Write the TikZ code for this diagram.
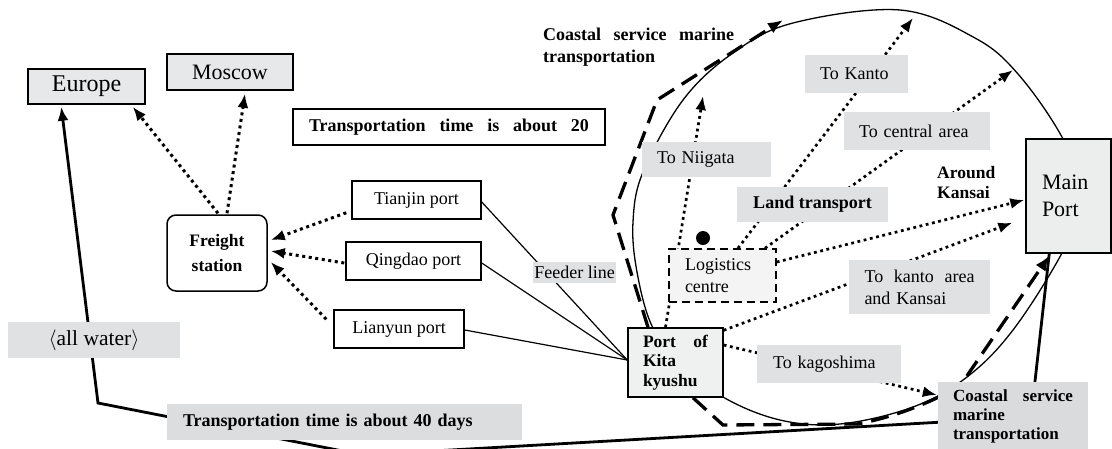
\documentclass[tikz,border=0pt]{standalone}
\usepackage{fontspec}
\setmainfont{Liberation Serif}
\usetikzlibrary{arrows.meta,backgrounds}
\definecolor{boxgray}{HTML}{E7E8E9}
\definecolor{lblgray}{HTML}{E0E1E2}
\definecolor{t40gray}{HTML}{DCDDDE}
\definecolor{portgray}{HTML}{EFF0F0}
\definecolor{loggray}{HTML}{F3F4F3}
\definecolor{mpgray}{HTML}{ECEDED}
\definecolor{coastgray}{HTML}{DADBDC}
\newcommand\regf{\fontsize{18}{21}\selectfont}
\newcommand\bigf{\fontsize{22}{27}\selectfont}
\newcommand\boldf{\bfseries\fontsize{18}{20}\selectfont}
\begin{document}
\begin{tikzpicture}[x=1pt,y=-1pt,
  box/.style={draw=black, line width=1.5pt, fill=white, inner sep=0pt, font=\regf},
  lbl/.style={draw=none, fill=lblgray, inner sep=0pt, font=\regf},
  dots/.style={line width=3pt, dash pattern=on 3pt off 3.6pt, -{Latex[length=14pt,width=11pt]}},
  fdots/.style={line width=2.7pt, dash pattern=on 2.8pt off 3.6pt, -{Latex[length=14pt,width=11pt]}},
  coastline/.style={line width=3.3pt, dash pattern=on 18pt off 9pt},
  route/.style={line width=2.8pt},
  feeder/.style={line width=1.2pt},
  orbit/.style={line width=1.3pt}]
\useasboundingbox (0,0) rectangle (1112,448);

% ---------- nodes ----------
\node[box, fill=boxgray, minimum width=117, minimum height=35, font=\fontsize{24}{28}\selectfont] (europe) at (86.5,86.5) {Europe};
\node[box, fill=boxgray, minimum width=126, minimum height=36, font=\bigf] (moscow) at (230,72) {Moscow};
\node[box, minimum width=312, minimum height=36, text width=280, inner xsep=16, align=left, font=\boldf] (t20) at (449,127) {Transportation\hfill time\hfill is\hfill about\hfill 20};
\node[box, minimum width=129, minimum height=38] (tianjin) at (416.5,200) {Tianjin port};
\node[box, minimum width=135, minimum height=38] (qingdao) at (413.5,261) {Qingdao port};
\node[box, minimum width=130, minimum height=38] (lianyun) at (399,329) {Lianyun port};
\node[box, rounded corners=9pt, minimum width=100, minimum height=76, align=center, font=\bfseries\fontsize{17.5}{25}\selectfont] (freight) at (217,253) {Freight\\station};
\node[lbl, minimum width=83, minimum height=21] (feeder) at (574.5,272.5) {Feeder line};
\node[box, fill=portgray, minimum width=95, minimum height=69, text width=65, inner xsep=15, align=left, font=\bfseries\fontsize{17.5}{19.5}\selectfont] (port) at (675.5,362.5) {Port\hfill of\\Kita\\kyushu};
\node[lbl, fill=coastgray, minimum width=150, minimum height=68, text width=120, inner xsep=15, align=left, font=\bfseries\fontsize{17}{19}\selectfont] (coastal) at (1013,416) {Coastal\hfill service\\marine\\transportation};
\node[lbl, fill=t40gray, minimum width=355, minimum height=36, text width=323, inner xsep=16, align=left, font=\boldf] (t40) at (344.5,422) {Transportation time is about 40 days};
\node[lbl, minimum width=172, minimum height=36, font=\fontsize{21.5}{24}\selectfont] (allwater) at (94,340) {$\langle$all water$\rangle$};
\node[box, fill=mpgray, minimum width=85, minimum height=114, text width=53, inner xsep=16, align=left, font=\bigf] (mainport) at (1068.5,196) {Main\\Port};
\node[lbl, minimum width=129, minimum height=35, text width=99, inner xsep=15, align=left] (niigata) at (706.5,159.5) {To Niigata};
\node[lbl, minimum width=103, minimum height=38, text width=73, inner xsep=15, align=left] (kanto) at (856.5,74) {To Kanto};
\node[lbl, minimum width=146, minimum height=38, text width=116, inner xsep=15, align=left] (central) at (917,131) {To central area};
\node[lbl, minimum width=151, minimum height=35, font=\boldf] (land) at (812.5,204.5) {Land transport};
\node[lbl, minimum width=141, minimum height=54, text width=110, inner xsep=15.5, align=left, font=\fontsize{18}{22}\selectfont] (kantoarea) at (919.5,287) {To\hfill kanto\hfill area\\and Kansai};
\node[lbl, minimum width=144, minimum height=38, text width=112, inner xsep=16, align=left] (kagoshima) at (829,364) {To kagoshima};
\node[box, fill=loggray, dash pattern=on 8pt off 5pt, minimum width=107, minimum height=53, text width=75, inner xsep=16, align=left, font=\fontsize{18}{22}\selectfont] (logistics) at (722.5,275.5) {Logistics\\centre};
\node[circle, fill=black, minimum size=14, inner sep=0pt] (dot) at (703,238) {};
\node[anchor=north west, inner sep=0pt, align=left, font=\bfseries\fontsize{17.5}{20}\selectfont] (around) at (937,166) {Around\\Kansai};
\node[anchor=north west, inner sep=0pt, text width=191, align=left, font=\bfseries\fontsize{18}{22}\selectfont] (topcoastal) at (543,28) {Coastal\hfill service\hfill marine\\transportation};

\coordinate (niigatatip) at (703,96);
\coordinate (kantotip) at (913,18);
\coordinate (centraltip) at (1013,70);
\coordinate (coasttip) at (783,20);
\coordinate (bend1) at (613,215);
\coordinate (bend2) at (657,100);
\coordinate (bend3) at (723,425);
\coordinate (bend4) at (857,424);
\coordinate (bend5) at (960,386);
\coordinate (rc1) at (1031,417);
\coordinate (rc2) at (363,455);
\coordinate (rc3) at (98,403);

% ---------- connectors (behind the boxes) ----------
\begin{pgfonlayer}{background}
\fill[white] (0,0) rectangle (1112,448);
\draw[orbit] plot[smooth cycle, tension=0.6] coordinates {
  (900,10) (975,38) (1018,74) (1062,137) (1085,196) (1062,253) (1013,330) (967,377)
  (913,407) (840,424) (780,420) (723,397) (680,362) (652,326) (637,272) (633,222)
  (643,172) (683,100) (733,53) (793,23)};
% feeder lines
\draw[feeder] ([yshift=-2pt]tianjin.east) -- ([yshift=2.5pt]port.west);
\draw[feeder] ([yshift=-2pt]qingdao.east) -- ([yshift=2.5pt]port.west);
\draw[feeder] ([yshift=-1pt]lianyun.east) -- ([yshift=2.5pt]port.west);
% freight station links
\draw[dots] ([xshift=1pt,yshift=1pt]freight.north) -- ([xshift=-13pt,yshift=-2pt]europe.south east);
\draw[dots] ([xshift=10pt,yshift=1pt]freight.north) -- ([xshift=15pt,yshift=-3pt]moscow.south);
\draw[dots] ([xshift=-5pt,yshift=7pt]tianjin.south west) -- ([xshift=3pt,yshift=13pt]freight.east);
\draw[dots] ([xshift=-1pt,yshift=-2pt]qingdao.west) -- ([xshift=3pt,yshift=2pt]freight.east);
\draw[dots] ([xshift=-7pt,yshift=-10pt]lianyun.north west) -- ([xshift=3pt,yshift=-9pt]freight.east);
% land transport
\draw[fdots] ([xshift=-10pt]port.north) -- (niigatatip);
\draw[fdots] ([xshift=15.5pt]logistics.north) -- (kantotip);
\draw[fdots] ([xshift=42.5pt]logistics.north) -- (centraltip);
\draw[fdots] ([yshift=13.5pt]logistics.east) -- ([xshift=-1pt,yshift=-4pt]mainport.west);
\draw[fdots] ([yshift=-3pt]port.north east) -- ([xshift=-13pt,yshift=31pt]mainport.south west);
\draw[fdots] ([yshift=17.5pt]port.east) -- ([xshift=-1pt,yshift=21pt]coastal.west);
% all water route
\draw[route, -{Latex[length=14pt,width=11pt]}] ([xshift=24pt]mainport.south west) -- (rc1) -- (rc2) -- (rc3) -- ([xshift=34pt,yshift=-2pt]europe.south west);
% coastal service marine transportation
\draw[coastline, -{Latex[length=15pt,width=12pt]}] ([xshift=-27.5pt]port.north) -- (bend1) -- (bend2) -- (coasttip);
\draw[coastline, -{Latex[length=15pt,width=12pt]}] ([xshift=17.5pt]port.south) -- (bend3) -- (bend4) .. controls (900,416) and (935,400) .. (bend5) -- ([xshift=24pt,yshift=-2pt]mainport.south west);
\end{pgfonlayer}
\end{tikzpicture}
\end{document}
